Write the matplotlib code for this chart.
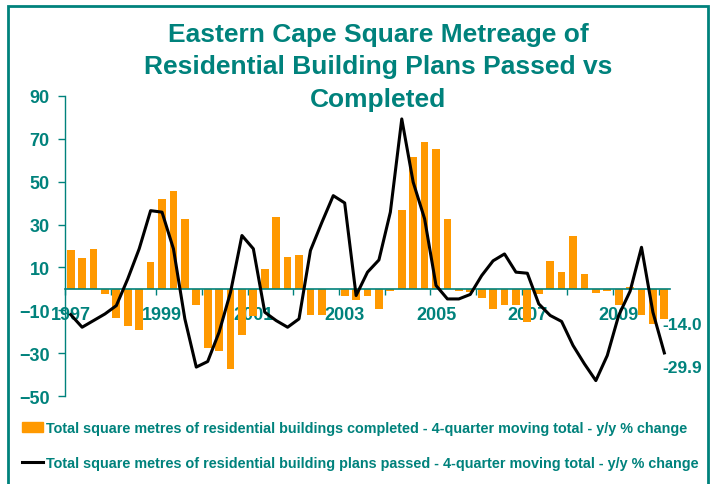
import matplotlib
matplotlib.use("Agg")
import matplotlib.pyplot as plt
import matplotlib.patches as mpatches
import matplotlib.lines as mlines
import numpy as np

# ── Theme ─────────────────────────────────────────────────────────────────────
TEAL   = "#00827C"
ORANGE = "#FF9900"
BLACK  = "#000000"

plt.rcParams["font.family"] = ["Liberation Sans", "DejaVu Sans"]
plt.rcParams["font.weight"] = "bold"

# ── Data (quarterly, 1997Q1 - 2010Q1) ─────────────────────────────────────────
year_labels = ["1997", "1999", "2001", "2003", "2005", "2007", "2009"]

completed = [
    18.2, 14.5, 18.7, -2.6, -13.4, -17.1, -19.4, 12.6,
    42.0, 45.7, 32.7, -7.3, -27.8, -28.8, -37.2, -21.3,
    -12.5, 9.5, 33.7, 14.9, 16.0, -12.4, -12.4, 0.0,
    -3.1, -5.4, -3.4, -9.2, -0.8, 36.9, 61.6, 68.7,
    65.3, 32.7, -0.8, -1.6, -4.2, -9.6, -7.3, -7.3,
    -15.5, -2.3, 13.1, 7.9, 24.9, 7.0, -1.7, -0.9,
    -7.3, 0.9, -12.4, -16.6, -14.0,
]

plans_passed = [
    -12.0, -17.9, -14.8, -11.7, -7.8, 4.7, 18.7, 36.5,
    35.8, 18.7, -14.0, -36.5, -33.9, -20.2, -1.6, 24.9,
    18.7, -10.9, -14.8, -17.9, -14.0, 17.9, 31.0, 43.5,
    40.1, -3.1, 7.8, 13.5, 35.8, 79.3, 49.8, 32.7,
    1.6, -4.7, -4.7, -2.6, 6.2, 13.1, 16.3, 7.8,
    7.3, -7.0, -12.4, -15.2, -26.4, -35.0, -42.8, -31.1,
    -12.4, -1.1, 19.4, -10.9, -29.9,
]

x = np.arange(len(completed))

# ── Figure ────────────────────────────────────────────────────────────────────
fig = plt.figure(figsize=(7.11, 4.85), dpi=100)
ax = fig.add_axes([0.0914, 0.1814, 0.851, 0.6186])

ax.bar(x, completed, width=0.68, color=ORANGE, zorder=2)
ax.plot(x, plans_passed, color=BLACK, linewidth=2.2, zorder=3)

ax.set_xlim(-0.5, len(x) - 0.5)
ax.set_ylim(-50, 90)
ax.set_yticks(np.arange(-50, 91, 20))

# Axes styling
for s in ["top", "right"]:
    ax.spines[s].set_visible(False)
ax.spines["left"].set_color(TEAL)
ax.spines["left"].set_linewidth(1.0)
ax.spines["bottom"].set_position(("data", 0))
ax.spines["bottom"].set_color(TEAL)
ax.spines["bottom"].set_linewidth(1.2)
ax.spines["bottom"].set_zorder(2.5)

ax.tick_params(axis="y", colors=TEAL, labelsize=13, length=5, width=1, pad=6)
for t in ax.get_yticklabels():
    t.set_fontweight("bold")

# year boundary ticks (major) and year labels (minor)
ax.set_xticks(np.arange(-0.5, len(x), 4))
ax.set_xticklabels([])
ax.tick_params(axis="x", which="major", colors=TEAL, length=4, width=1)
ax.set_xticks(np.arange(0, len(x), 8), minor=True)
ax.set_xticklabels(year_labels, minor=True, fontsize=13, fontweight="bold", color=TEAL)
ax.tick_params(axis="x", which="minor", length=0, pad=12)

# end-value labels
ax.text(len(x) - 1.2, completed[-1] + 1, f"{completed[-1]:.1f}", color=TEAL,
        fontsize=12.5, fontweight="bold", ha="left", va="top")
ax.text(len(x) - 1.2, plans_passed[-1] - 3.5, f"{plans_passed[-1]:.1f}", color=TEAL,
        fontsize=12.5, fontweight="bold", ha="left", va="top")

# Title
fig.text(0.532, 0.953, "Eastern Cape Square Metreage of\nResidential Building Plans Passed vs\nCompleted",
         ha="center", va="top", fontsize=19, fontweight="bold", color=TEAL,
         linespacing=1.44)

# Legend
handles = [
    mpatches.Patch(color=ORANGE),
    mlines.Line2D([], [], color=BLACK, linewidth=2.2),
]
labels = [
    "Total square metres of residential buildings completed - 4-quarter moving total - y/y % change",
    "Total square metres of residential building plans passed - 4-quarter moving total - y/y % change",
]
leg = fig.legend(handles, labels, loc="upper left", bbox_to_anchor=(0.031, 0.129),
                 frameon=False, handlelength=1.45, handleheight=0.7, handletextpad=0.2,
                 labelspacing=1.4, prop={"size": 10.4, "weight": "bold"},
                 labelcolor=TEAL, borderaxespad=0, borderpad=0)

# Outer frame
frame = mpatches.Rectangle((8 / 711, -0.1), (707.5 - 8) / 711, 1.1 - 6.5 / 485,
                           transform=fig.transFigure, fill=False,
                           edgecolor=TEAL, linewidth=2, clip_on=False)
fig.patches.append(frame)

fig.savefig("out.png", dpi=100, facecolor="white")
